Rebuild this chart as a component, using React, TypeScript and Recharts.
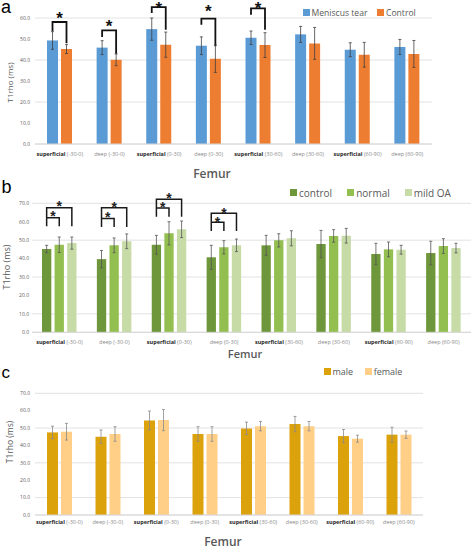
import React from 'react';
import { BarChart, Bar, XAxis, YAxis, CartesianGrid, ErrorBar, Legend } from 'recharts';

// ---------- shared categories ----------
const categories = [
  'superficial (-30-0)', 'deep (-30-0)', 'superficial (0-30)', 'deep (0-30)',
  'superficial (30-60)', 'deep (30-60)', 'superficial (60-90)', 'deep (60-90)',
];

// ---------- panel a ----------
const seriesNamesA = ['Meniscus tear', 'Control'];
const meniscusTear = [49.3, 45.9, 54.7, 46.8, 50.6, 52.2, 44.9, 46.2];
const meniscusTearSd = [4.2, 3.3, 5.3, 4.2, 3.2, 3.8, 3.3, 3.6];
const controlA = [45.2, 40.1, 47.3, 40.6, 47.1, 47.9, 42.5, 42.9];
const controlASd = [2.1, 2.8, 6.0, 6.5, 5.9, 7.6, 5.9, 6.4];
const ticksA = [0, 10, 20, 30, 40, 50, 60];
// significance brackets (data units)
const sigATop = [58.1, 54.1, 65.2, 59.7, 64.6, null, null, null];
const sigALeft = [53.8, 51.0, 62.4, 56.8, 61.6, null, null, null];
const sigARight = [48.0, 43.0, 54.4, 46.5, 54.4, null, null, null];
const sigAStar = [61.6, 57.9, 66.6, 64.8, 66.4, null, null, null];

// ---------- panel b ----------
const seriesNamesB = ['control', 'normal', 'mild OA'];
const controlB = [45.2, 39.7, 47.5, 40.7, 47.2, 47.9, 42.5, 43.0];
const controlBSd = [2.0, 4.7, 5.1, 6.5, 5.4, 7.4, 5.8, 6.4];
const normalB = [47.5, 47.2, 53.7, 46.1, 49.9, 52.3, 45.0, 46.8];
const normalBSd = [4.2, 4.0, 6.3, 3.6, 3.6, 3.4, 4.0, 4.0];
const mildOA = [48.4, 49.4, 55.9, 47.2, 51.0, 52.4, 44.8, 45.7];
const mildOASd = [3.3, 4.0, 4.5, 3.4, 4.1, 4.0, 2.4, 2.6];
const ticksBC = [0, 10, 20, 30, 40, 50, 60, 70];
const sigBOuter = [67.6, 67.6, 72.2, 64.6, null, null, null, null];
const sigBInner = [62.2, 61.8, 67.4, 59.7, null, null, null, null];
const sigBLeg = [57.6, 57.2, 62.7, 55.0, null, null, null, null];
const sigBOuterStar = [70.0, 69.5, 74.5, 66.4, null, null, null, null];
const sigBInnerStar = [64.4, 64.0, 69.4, 61.3, null, null, null, null];

// ---------- panel c ----------
const seriesNamesC = ['male', 'female'];
const male = [47.5, 45.0, 54.4, 46.6, 49.8, 52.3, 45.4, 46.2];
const maleSd = [3.6, 3.9, 5.4, 4.2, 3.6, 4.4, 3.8, 4.3];
const female = [47.9, 46.6, 54.6, 46.6, 51.1, 51.1, 43.9, 46.2];
const femaleSd = [4.8, 4.2, 6.1, 4.2, 2.7, 2.7, 2.0, 2.1];

const dataA = categories.map((c, i) => ({
  category: c, tear: meniscusTear[i], tearSd: meniscusTearSd[i],
  control: controlA[i], controlSd: controlASd[i],
  sTop: sigATop[i], sLeft: sigALeft[i], sRight: sigARight[i], sStar: sigAStar[i],
}));
const dataB = categories.map((c, i) => ({
  category: c, control: controlB[i], controlSd: controlBSd[i],
  normal: normalB[i], normalSd: normalBSd[i], mild: mildOA[i], mildSd: mildOASd[i],
  sOuter: sigBOuter[i], sInner: sigBInner[i], sLeg: sigBLeg[i],
  sOuterStar: sigBOuterStar[i], sInnerStar: sigBInnerStar[i],
}));
const dataC = categories.map((c, i) => ({
  category: c, male: male[i], maleSd: maleSd[i], female: female[i], femaleSd: femaleSd[i],
}));

const FONT = '"Open Sans", sans-serif';
const STARFONT = '"Liberation Sans", Arial, sans-serif';

function CatTick(props: any) {
  const { x, y, payload, dy } = props;
  const v: string = payload.value;
  const isSup = v.startsWith('superficial');
  const rest = isSup ? v.slice('superficial'.length) : v;
  return (
    <text x={x} y={y + dy} textAnchor="middle" fontSize={5.5} fontFamily={FONT}>
      {isSup && <tspan fontWeight="bold" fill="#262626">superficial</tspan>}
      <tspan fill="#8a8a8a">{rest}</tspan>
    </text>
  );
}

function makeLegend(fontSize: number, box: number, itemGap: number, order: string[]) {
  return (props: any) => {
    const items = [...(props.payload || [])].sort(
      (a: any, b: any) => order.indexOf(a.value) - order.indexOf(b.value)
    );
    return (
      <div style={{ display: 'flex', alignItems: 'center', height: 12, fontFamily: FONT, fontSize, color: '#595959', whiteSpace: 'nowrap' }}>
        {items.map((p: any, i: number) => (
          <span key={i} style={{ display: 'flex', alignItems: 'center', marginRight: itemGap }}>
            <span style={{ display: 'inline-block', width: box, height: box, background: p.color, marginRight: 2 }} />
            {p.value}
          </span>
        ))}
      </div>
    );
  };
}

const GAP_A = 3;
const GAP_B = 3.3;
const GAP_C = 3;

function ShapeA(props: any) {
  const { x, y, width, height, fill, payload } = props;
  const base = y + height;
  const k = height / payload.tear;
  const py = (v: number) => base - v * k;
  const x1 = x + width / 2;
  const x2 = x1 + width + GAP_A;
  return (
    <g>
      <rect x={x} y={y} width={width} height={height} fill={fill} />
      {payload.sTop != null && (
        <g>
          <path d={`M${x1},${py(payload.sLeft)} V${py(payload.sTop)} H${x2} V${py(payload.sRight)}`} fill="none" stroke="#111" strokeWidth={1.8} />
          <text x={(x1 + x2) / 2} y={py(payload.sStar) + 0.56 * 17} textAnchor="middle" fontSize={17} fontWeight="bold" fontFamily={STARFONT} fill="#111">*</text>
        </g>
      )}
    </g>
  );
}

function ShapeB(props: any) {
  const { x, y, width, height, fill, payload } = props;
  const base = y + height;
  const k = height / payload.control;
  const py = (v: number) => base - v * k;
  const c0 = x + width / 2;
  const c1 = c0 + width + GAP_B;
  const c2 = c1 + width + GAP_B;
  return (
    <g>
      <rect x={x} y={y} width={width} height={height} fill={fill} />
      {payload.sOuter != null && (
        <g>
          <path d={`M${c0},${py(payload.sLeg)} V${py(payload.sOuter)} H${c2} V${py(payload.sLeg)}`} fill="none" stroke="#1a1a1a" strokeWidth={1.5} />
          <path d={`M${c0},${py(payload.sInner)} H${c1} V${py(payload.sLeg)}`} fill="none" stroke="#1a1a1a" strokeWidth={1.5} />
          <text x={c1} y={py(payload.sOuterStar) + 0.56 * 14} textAnchor="middle" fontSize={14} fontWeight="bold" fontFamily={STARFONT} fill="#222">*</text>
          <text x={(c0 + c1) / 2} y={py(payload.sInnerStar) + 0.56 * 14} textAnchor="middle" fontSize={14} fontWeight="bold" fontFamily={STARFONT} fill="#222">*</text>
        </g>
      )}
    </g>
  );
}

const yTick = { fontSize: 5, fill: '#595959', fontFamily: FONT };

export default function App() {
  return (
    <div style={{ position: 'absolute', left: 0, top: 0, width: 472, height: 548, background: '#fff', overflow: 'hidden' }}>
      {/* Panel a */}
      <div style={{ position: 'absolute', left: 0, top: 0 }}>
        <BarChart width={472} height={165} data={dataA} margin={{ top: 18, right: 40, bottom: 7, left: 0 }} barSize={11} barGap={GAP_A}>
          <CartesianGrid vertical={false} stroke="#e2e2e2" />
          <XAxis dataKey="category" interval={0} tickLine={false} tickSize={0} tickMargin={0} height={14} axisLine={{ stroke: '#d6d6d6' }} tick={(p: any) => <CatTick {...p} dy={12.3} />} />
          <YAxis width={35} domain={[0, 60]} ticks={ticksA} tickFormatter={(v: number) => v.toFixed(1)} axisLine={false} tickLine={false} tickSize={0} tickMargin={5} tick={yTick} />
          <Legend layout="vertical" align="center" verticalAlign="middle" wrapperStyle={{ position: 'absolute', top: 6.7, left: 303, width: 170, height: 12 }} content={makeLegend(8.6, 6.5, 10, seriesNamesA)} />
          <Bar dataKey="tear" name={seriesNamesA[0]} fill="#5B9BD5" isAnimationActive={false} shape={ShapeA}>
            <ErrorBar dataKey="tearSd" width={1.5} strokeWidth={0.8} stroke="#404040" />
          </Bar>
          <Bar dataKey="control" name={seriesNamesA[1]} fill="#ED7D31" isAnimationActive={false}>
            <ErrorBar dataKey="controlSd" width={1.5} strokeWidth={0.8} stroke="#404040" />
          </Bar>
        </BarChart>
      </div>

      {/* Panel b */}
      <div style={{ position: 'absolute', left: 0, top: 180 }}>
        <BarChart width={472} height={170} data={dataB} margin={{ top: 23.3, right: 1, bottom: 3.7, left: 0 }} barSize={9.3} barGap={GAP_B}>
          <CartesianGrid vertical={false} stroke="#e2e2e2" />
          <XAxis dataKey="category" interval={0} tickLine={false} tickSize={0} tickMargin={0} height={14} axisLine={{ stroke: '#d6d6d6' }} tick={(p: any) => <CatTick {...p} dy={11.4} />} />
          <YAxis width={32} domain={[0, 70]} ticks={ticksBC} tickFormatter={(v: number) => v.toFixed(1)} axisLine={false} tickLine={false} tickSize={0} tickMargin={3} tick={yTick} />
          <Legend layout="vertical" align="center" verticalAlign="middle" wrapperStyle={{ position: 'absolute', top: 6.7, left: 290, width: 180, height: 12 }} content={makeLegend(10, 7, 15, seriesNamesB)} />
          <Bar dataKey="control" name={seriesNamesB[0]} fill="#6E963A" isAnimationActive={false} shape={ShapeB}>
            <ErrorBar dataKey="controlSd" width={1.5} strokeWidth={0.8} stroke="#555" />
          </Bar>
          <Bar dataKey="normal" name={seriesNamesB[1]} fill="#93BE50" isAnimationActive={false}>
            <ErrorBar dataKey="normalSd" width={1.5} strokeWidth={0.8} stroke="#555" />
          </Bar>
          <Bar dataKey="mild" name={seriesNamesB[2]} fill="#C6DBA6" isAnimationActive={false}>
            <ErrorBar dataKey="mildSd" width={1.5} strokeWidth={0.8} stroke="#555" />
          </Bar>
        </BarChart>
      </div>

      {/* Panel c */}
      <div style={{ position: 'absolute', left: 0, top: 360 }}>
        <BarChart width={472} height={178} data={dataC} margin={{ top: 33.3, right: 49, bottom: 9, left: 0 }} barSize={11} barGap={GAP_C}>
          <CartesianGrid vertical={false} stroke="#e2e2e2" />
          <XAxis dataKey="category" interval={0} tickLine={false} tickSize={0} tickMargin={0} height={14} axisLine={{ stroke: '#d6d6d6' }} tick={(p: any) => <CatTick {...p} dy={9} />} />
          <YAxis width={35} domain={[0, 70]} ticks={ticksBC} tickFormatter={(v: number) => v.toFixed(1)} axisLine={false} tickLine={false} tickSize={0} tickMargin={5} tick={yTick} />
          <Legend layout="vertical" align="center" verticalAlign="middle" wrapperStyle={{ position: 'absolute', top: 5.7, left: 324, width: 140, height: 12 }} content={makeLegend(9, 6.5, 12, seriesNamesC)} />
          <Bar dataKey="male" name={seriesNamesC[0]} fill="#DCA20B" isAnimationActive={false}>
            <ErrorBar dataKey="maleSd" width={1.5} strokeWidth={0.8} stroke="#8a8a8a" />
          </Bar>
          <Bar dataKey="female" name={seriesNamesC[1]} fill="#FFCF88" isAnimationActive={false}>
            <ErrorBar dataKey="femaleSd" width={1.5} strokeWidth={0.8} stroke="#8a8a8a" />
          </Bar>
        </BarChart>
      </div>

      {/* Titles and panel letters */}
      <svg width={472} height={548} style={{ position: 'absolute', left: 0, top: 0, pointerEvents: 'none' }}>
        <text x={1} y={13} fontSize={18} fontFamily={STARFONT} fill="#000">a</text>
        <text x={1.5} y={192.5} fontSize={18} fontFamily={STARFONT} fill="#000">b</text>
        <text x={1.5} y={378} fontSize={17} fontFamily={STARFONT} fill="#000">c</text>

        <text x={212} y={178} fontSize={12} fontWeight={600} fontFamily={FONT} fill="#595959" textAnchor="middle">Femur</text>
        <text x={245} y={358} fontSize={11} fontWeight={600} fontFamily={FONT} fill="#595959" textAnchor="middle">Femur</text>
        <text x={223} y={545.5} fontSize={12} fontWeight={600} fontFamily={FONT} fill="#595959" textAnchor="middle">Femur</text>

        <text transform="translate(12.5,82.5) rotate(-90)" fontSize={8} fontFamily={FONT} fill="#595959" textAnchor="middle">T1rho (ms)</text>
        <text transform="translate(10,267) rotate(-90)" fontSize={9} fontFamily={FONT} fill="#595959" textAnchor="middle">T1rho (ms)</text>
        <text transform="translate(12.5,442) rotate(-90)" fontSize={8.5} fontFamily={FONT} fill="#595959" textAnchor="middle">T1rho (ms)</text>
      </svg>
    </div>
  );
}
